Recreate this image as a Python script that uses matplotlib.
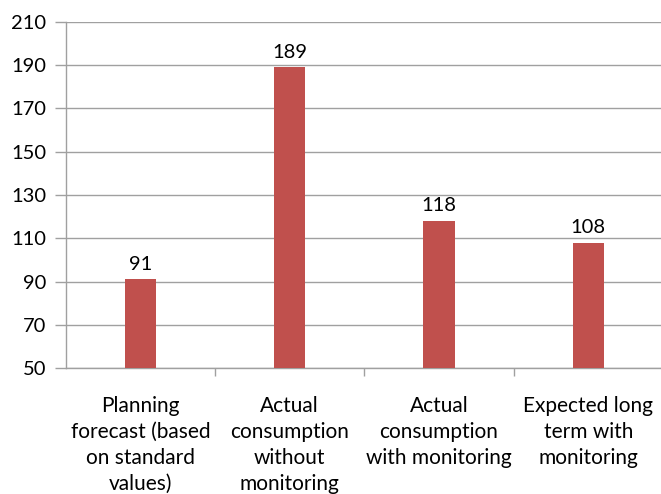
import matplotlib
matplotlib.use("Agg")
import matplotlib.pyplot as plt
import numpy as np

categories = ["Planning\nforecast (based\non standard\nvalues)",
              "Actual\nconsumption\nwithout\nmonitoring",
              "Actual\nconsumption\nwith monitoring",
              "Expected long\nterm with\nmonitoring"]
values = [91, 189, 118, 108]
yticks = [50, 70, 90, 110, 130, 150, 170, 190, 210]

plt.rcParams['font.family'] = ['Lato', 'DejaVu Sans']

fig = plt.figure(figsize=(6.61, 4.94), dpi=100)
ax = fig.add_axes([0.0998, 0.255, 0.903, 0.7005])

x = np.arange(len(categories))
bars = ax.bar(x, [v - 50 for v in values], bottom=50, width=0.21, color="#C0504D", zorder=3)
for xi, v in zip(x, values):
    ax.text(xi, v + 3, str(v), ha="center", va="bottom", fontsize=14.5, color="black")

ax.set_ylim(50, 210)
ax.set_xlim(-0.5, len(categories) - 0.5)
ax.set_yticks(yticks)
ax.set_yticklabels([str(t) for t in yticks], fontsize=14.5)
ax.yaxis.grid(True, color="#A0A0A0", linewidth=1, zorder=0)
ax.set_xticks(x)
ax.set_xticklabels(categories, fontsize=15, linespacing=1.38)
ax.tick_params(axis="x", length=0, pad=20)
ax.tick_params(axis="y", length=8, color="#A0A0A0", width=1, pad=6)

# category boundary ticks
ax.set_xticks(np.arange(0.5, len(categories) - 0.5, 1.0), minor=True)
ax.tick_params(axis="x", which="minor", length=6, color="#A0A0A0", width=1)

for s in ["top", "right"]:
    ax.spines[s].set_visible(False)
for s in ["left", "bottom"]:
    ax.spines[s].set_color("#A0A0A0")
    ax.spines[s].set_linewidth(1)

fig.savefig("out.png", dpi=100)
